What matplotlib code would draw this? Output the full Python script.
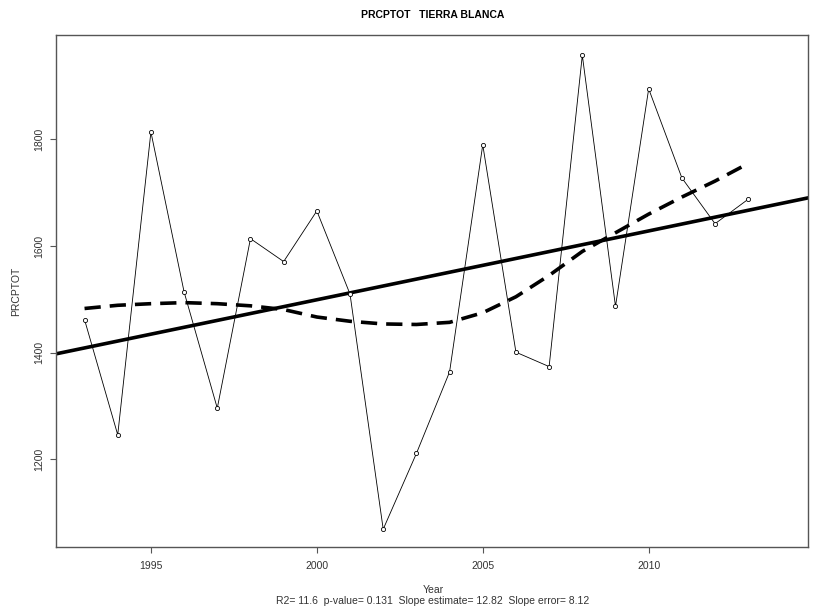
import numpy as np
import matplotlib
matplotlib.use("Agg")
import matplotlib.pyplot as plt

plt.rcParams['font.family'] = ['Liberation Sans', 'DejaVu Sans']

# annual total precipitation
years = np.arange(1993, 2014)
prcptot = [1462, 1246, 1814, 1514, 1296, 1614, 1571, 1666, 1510, 1069, 1211,
           1364, 1790, 1401, 1374, 1958, 1487, 1895, 1728, 1642, 1688]
# smoothed (loess-like) curve
smooth = [1483, 1489, 1492, 1494, 1492, 1488, 1481, 1467, 1459, 1454, 1453,
          1457, 1475, 1505, 1545, 1590, 1625, 1660, 1692, 1722, 1755]

title = "PRCPTOT   TIERRA BLANCA"
stats = "R2= 11.6  p-value= 0.131  Slope estimate= 12.82  Slope error= 8.12"
xticks = [1995, 2000, 2005, 2010]
yticks = [1200, 1400, 1600, 1800]

fig = plt.figure(figsize=(8.13, 6.12), dpi=100)
ax = fig.add_axes([0.0693, 0.1057, 0.9245, 0.8371])

ax.plot(years, prcptot, color='black', lw=0.6, marker='o', ms=3,
        mfc='white', mec='black', mew=0.6, zorder=3)

# linear trend through the data
slope, icpt = np.polyfit(years, prcptot, 1)
xl = np.array([1990, 2017])
ax.plot(xl, icpt + slope * xl, color='black', lw=2.6, zorder=2)

ax.plot(years, smooth, color='black', lw=2.6, ls=(0, (4.5, 2.5)), zorder=2)

ax.set_xlim(1992.15, 2014.8)
ax.set_ylim(1035, 1996)
ax.set_xticks(xticks)
ax.set_yticks(yticks)
ax.set_yticklabels([str(v) for v in yticks], rotation=90, va='center')
ax.tick_params(axis='both', length=4.5, width=0.8, color='#555555',
               labelsize=7.5, labelcolor='#333333', direction='out')
ax.tick_params(axis='x', pad=5)
ax.tick_params(axis='y', pad=4.5)
for s in ax.spines.values():
    s.set_color('#555555')
    s.set_linewidth(1.0)

fig.text(0.0197, 0.5245, "PRCPTOT", rotation=90, ha='center', va='center',
         fontsize=7.5, color='#333333')
fig.text(0.5325, 0.976, title, ha='center', va='center',
         fontsize=7.5, fontweight='bold')
fig.text(0.5325, 0.036, "Year", ha='center', va='center',
         fontsize=7.5, color='#333333')
fig.text(0.5325, 0.018, stats, ha='center', va='center',
         fontsize=7.5, color='#333333')

fig.savefig("out.png", dpi=100)
